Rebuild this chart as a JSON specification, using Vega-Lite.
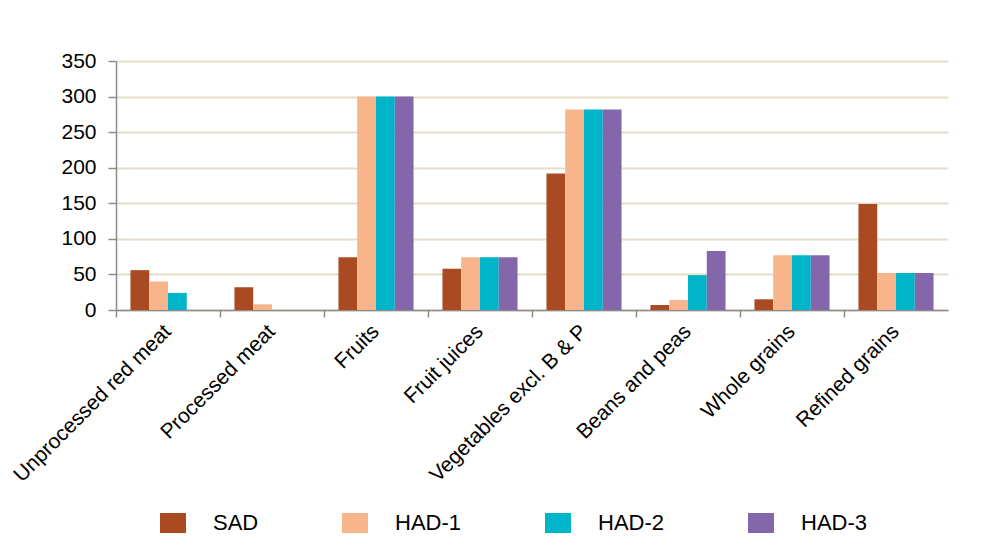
{
  "$schema": "https://vega.github.io/schema/vega-lite/v6.json",
  "width": 832,
  "height": 249,
  "autosize": "none",
  "padding": {"left": 116, "top": 61, "right": 35, "bottom": 240},
  "background": "white",
  "data": {
    "values": [
      {"category": "Unprocessed red meat", "diet": "SAD", "value": 56},
      {"category": "Unprocessed red meat", "diet": "HAD-1", "value": 40},
      {"category": "Unprocessed red meat", "diet": "HAD-2", "value": 24},
      {"category": "Processed meat", "diet": "SAD", "value": 32},
      {"category": "Processed meat", "diet": "HAD-1", "value": 8},
      {"category": "Fruits", "diet": "SAD", "value": 74},
      {"category": "Fruits", "diet": "HAD-1", "value": 300},
      {"category": "Fruits", "diet": "HAD-2", "value": 300},
      {"category": "Fruits", "diet": "HAD-3", "value": 300},
      {"category": "Fruit juices", "diet": "SAD", "value": 58},
      {"category": "Fruit juices", "diet": "HAD-1", "value": 74},
      {"category": "Fruit juices", "diet": "HAD-2", "value": 74},
      {"category": "Fruit juices", "diet": "HAD-3", "value": 74},
      {"category": "Vegetables excl. B & P", "diet": "SAD", "value": 192},
      {"category": "Vegetables excl. B & P", "diet": "HAD-1", "value": 282},
      {"category": "Vegetables excl. B & P", "diet": "HAD-2", "value": 282},
      {"category": "Vegetables excl. B & P", "diet": "HAD-3", "value": 282},
      {"category": "Beans and peas", "diet": "SAD", "value": 7},
      {"category": "Beans and peas", "diet": "HAD-1", "value": 14},
      {"category": "Beans and peas", "diet": "HAD-2", "value": 49},
      {"category": "Beans and peas", "diet": "HAD-3", "value": 83},
      {"category": "Whole grains", "diet": "SAD", "value": 15},
      {"category": "Whole grains", "diet": "HAD-1", "value": 77},
      {"category": "Whole grains", "diet": "HAD-2", "value": 77},
      {"category": "Whole grains", "diet": "HAD-3", "value": 77},
      {"category": "Refined grains", "diet": "SAD", "value": 149},
      {"category": "Refined grains", "diet": "HAD-1", "value": 52},
      {"category": "Refined grains", "diet": "HAD-2", "value": 52},
      {"category": "Refined grains", "diet": "HAD-3", "value": 52}
    ]
  },
  "mark": {"type": "bar"},
  "encoding": {
    "x": {
      "field": "category",
      "type": "nominal",
      "sort": null,
      "scale": {"paddingInner": 0, "paddingOuter": 0},
      "axis": {
        "title": null,
        "labelAngle": -45,
        "labelAlign": "right",
        "labelBaseline": "middle",
        "labelFontSize": 21,
        "labelFont": "Liberation Sans",
        "labelColor": "#000000",
        "labelLimit": 400,
        "bandPosition": 0,
        "labelOffset": 0,
        "tickSize": 7,
        "tickColor": "#8C8C8C",
        "tickWidth": 1.5,
        "domainColor": "#8C8C8C",
        "domainWidth": 1.5,
        "labelPadding": 11,
        "grid": false
      }
    },
    "xOffset": {
      "field": "diet",
      "type": "nominal",
      "sort": ["SAD", "HAD-1", "HAD-2", "HAD-3"],
      "scale": {"paddingInner": 0, "paddingOuter": 0.77}
    },
    "y": {
      "field": "value",
      "type": "quantitative",
      "scale": {"domain": [0, 350]},
      "axis": {
        "title": null,
        "values": [0, 50, 100, 150, 200, 250, 300, 350],
        "labelFontSize": 21,
        "labelFont": "Liberation Sans",
        "labelColor": "#000000",
        "tickSize": 8,
        "tickColor": "#8C8C8C",
        "tickWidth": 1.5,
        "domainColor": "#8C8C8C",
        "domainWidth": 1.5,
        "labelPadding": 12,
        "gridColor": "#E4DECA",
        "gridWidth": 2
      }
    },
    "color": {
      "field": "diet",
      "type": "nominal",
      "sort": ["SAD", "HAD-1", "HAD-2", "HAD-3"],
      "scale": {
        "domain": ["SAD", "HAD-1", "HAD-2", "HAD-3"],
        "range": ["#A94A22", "#F8B48B", "#00B4CA", "#8466AA"]
      },
      "legend": {
        "title": null,
        "orient": "none",
        "legendX": 44,
        "legendY": 449,
        "direction": "horizontal",
        "columns": 4,
        "symbolType": "M-1,-0.77H1V0.77H-1Z",
        "symbolSize": 676,
        "symbolStrokeWidth": 0,
        "labelFontSize": 22,
        "labelFont": "Liberation Sans",
        "labelColor": "#000000",
        "labelOffset": 27,
        "columnPadding": 83
      }
    }
  },
  "config": {"view": {"stroke": null}}
}
